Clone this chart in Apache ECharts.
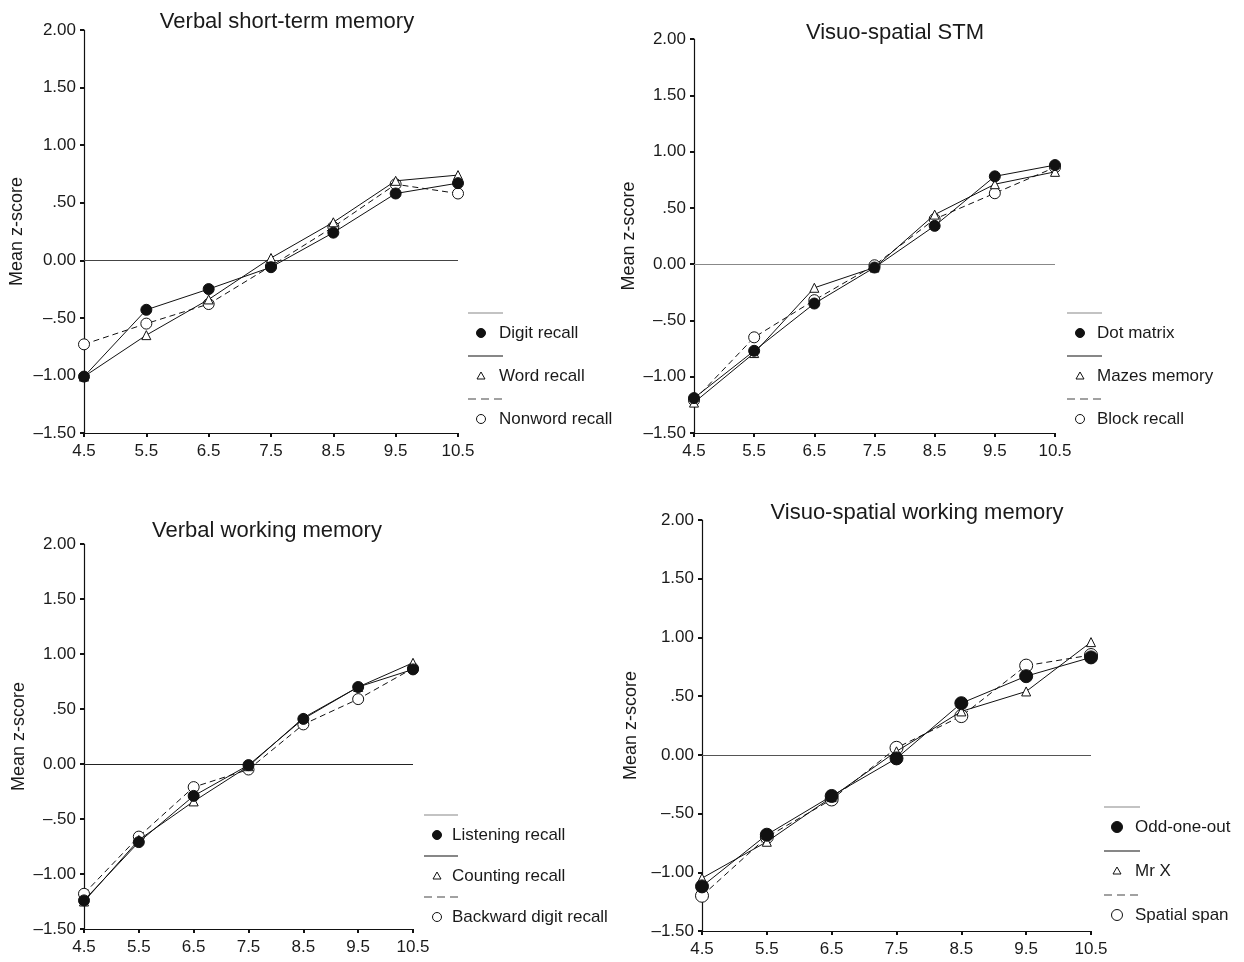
<!DOCTYPE html>
<html>
<head>
<meta charset="utf-8">
<script src="https://cdn.jsdelivr.net/npm/echarts@6/dist/echarts.min.js"></script>
<style>
  html, body { margin: 0; padding: 0; background: #fff; }
  #chart { width: 1244px; height: 962px; }
</style>
</head>
<body>
<div id="chart"></div>
<script>
// Age groups (x axis) and y tick labels
const ages = ['4.5', '5.5', '6.5', '7.5', '8.5', '9.5', '10.5'];
const yTicks = ['\u20131.50', '\u20131.00', '\u2013.50', '0.00', '.50', '1.00', '1.50', '2.00'];

// Verbal short-term memory
const digitRecall = [-1.01, -0.43, -0.25, -0.06, 0.24, 0.58, 0.67];
const wordRecall = [-1.01, -0.65, -0.34, 0.02, 0.33, 0.69, 0.74];
const nonwordRecall = [-0.73, -0.55, -0.38, -0.05, 0.29, 0.66, 0.58];

// Visuo-spatial STM
const dotMatrix = [-1.19, -0.77, -0.35, -0.03, 0.34, 0.78, 0.88];
const mazesMemory = [-1.23, -0.79, -0.21, -0.03, 0.44, 0.71, 0.82];
const blockRecall = [-1.21, -0.65, -0.32, -0.01, 0.40, 0.63, 0.86];

// Verbal working memory
const listeningRecall = [-1.24, -0.71, -0.29, -0.01, 0.41, 0.70, 0.86];
const countingRecall = [-1.25, -0.69, -0.34, -0.02, 0.42, 0.70, 0.92];
const backwardDigitRecall = [-1.18, -0.66, -0.21, -0.05, 0.36, 0.59, 0.87];

// Visuo-spatial working memory
const oddOneOut = [-1.12, -0.68, -0.35, -0.03, 0.44, 0.67, 0.83];
const mrX = [-1.05, -0.74, -0.36, 0.03, 0.37, 0.54, 0.96];
const spatialSpan = [-1.20, -0.70, -0.38, 0.06, 0.33, 0.76, 0.85];

const FONT = '"Liberation Sans", Arial, Helvetica, sans-serif';
const INK = '#1a1a1a';

// Layout of the four panels
const panels = [
    {
        title: 'Verbal short-term memory', titleX: 282, titleY: 6,
        grid: { left: 84, top: 30, width: 374, height: 403 },
        nameGap: 58, zeroColor: '#444',
        legend: { x: 468, y: 313, step: 43, len: 35, dx: 13, tx: 31 }, dot: 11,
        series: [['Digit recall', digitRecall], ['Word recall', wordRecall], ['Nonword recall', nonwordRecall]]
    },
    {
        title: 'Visuo-spatial STM', titleX: 890, titleY: 17,
        grid: { left: 694, top: 39, width: 361, height: 394 },
        nameGap: 56, zeroColor: '#888',
        legend: { x: 1067, y: 313, step: 43, len: 35, dx: 13, tx: 30 }, dot: 11,
        series: [['Dot matrix', dotMatrix], ['Mazes memory', mazesMemory], ['Block recall', blockRecall]]
    },
    {
        title: 'Verbal working memory', titleX: 262, titleY: 515,
        grid: { left: 84, top: 544, width: 329, height: 385 },
        nameGap: 56, zeroColor: '#222',
        legend: { x: 424, y: 815, step: 41, len: 34, dx: 13, tx: 28 }, dot: 11,
        series: [['Listening recall', listeningRecall], ['Counting recall', countingRecall], ['Backward digit recall', backwardDigitRecall]]
    },
    {
        title: 'Visuo-spatial working memory', titleX: 912, titleY: 497,
        grid: { left: 702, top: 520, width: 389, height: 411 },
        nameGap: 62, zeroColor: '#555',
        legend: { x: 1104, y: 807, step: 44, len: 36, dx: 13, tx: 31 }, dot: 13,
        series: [['Odd-one-out', oddOneOut], ['Mr X', mrX], ['Spatial span', spatialSpan]]
    }
];

// Marker / line style for the three series of each panel
const styles = [
    { symbol: 'circle', fill: '#111', dash: 'solid', legendLine: '#888' },
    { symbol: 'triangle', fill: '#fff', dash: 'solid', legendLine: '#111' },
    { symbol: 'circle', fill: '#fff', dash: [6, 4], legendLine: '#444' }
];

const chart = echarts.init(document.getElementById('chart'), null, { renderer: 'canvas' });

const option = {
    backgroundColor: '#fff',
    animation: false,
    textStyle: { fontFamily: FONT, color: INK },
    title: [],
    grid: [],
    xAxis: [],
    yAxis: [],
    series: [],
    graphic: []
};

panels.forEach((p, i) => {
    option.title.push({
        text: p.title,
        left: p.titleX,
        top: p.titleY,
        textAlign: 'center',
        textStyle: { fontFamily: FONT, fontSize: 22, fontWeight: 'normal', color: INK }
    });
    option.grid.push(Object.assign({ containLabel: false }, p.grid));
    option.xAxis.push({
        type: 'category',
        gridIndex: i,
        data: ages,
        boundaryGap: false,
        axisLine: { onZero: false, lineStyle: { color: '#111', width: 1.2 } },
        axisTick: { length: 4, alignWithLabel: true, lineStyle: { color: '#111', width: 2 } },
        axisLabel: { fontFamily: FONT, fontSize: 17, color: INK, margin: 10, interval: 0 },
        splitLine: { show: false }
    });
    option.yAxis.push({
        type: 'value',
        gridIndex: i,
        min: -1.5,
        max: 2,
        interval: 0.5,
        name: 'Mean z-score',
        nameLocation: 'middle',
        nameGap: p.nameGap,
        nameTextStyle: { fontFamily: FONT, fontSize: 18, color: INK },
        axisLine: { show: true, onZero: false, lineStyle: { color: '#111', width: 1.2 } },
        axisTick: { show: true, length: 4, lineStyle: { color: '#111', width: 2 } },
        axisLabel: {
            fontFamily: FONT, fontSize: 17, color: INK, margin: 8,
            formatter: v => yTicks[Math.round((v + 1.5) / 0.5)]
        },
        splitLine: { show: false }
    });

    // draw open-circle series first so filled markers sit on top
    [2, 1, 0].forEach(k => {
        const [name, values] = p.series[k];
        const st = styles[k];
        const s = {
            name: name,
            type: 'line',
            xAxisIndex: i,
            yAxisIndex: i,
            data: values,
            symbol: st.symbol,
            symbolSize: st.symbol === 'triangle' ? 9 : p.dot,
            showSymbol: true,
            lineStyle: { color: '#111', width: 1, type: st.dash },
            itemStyle: { color: st.fill, borderColor: '#111', borderWidth: 1 },
            z: 3 + (2 - k)
        };
        if (k === 2) {
            s.markLine = {
                silent: true,
                symbol: 'none',
                label: { show: false },
                lineStyle: { color: p.zeroColor, width: 1.2, type: 'solid' },
                data: [{ yAxis: 0 }],
                z: 1
            };
        }
        option.series.push(s);
    });

    // legend: line sample above a marker + label
    const L = p.legend;
    p.series.forEach(([name], k) => {
        const st = styles[k];
        const ly = L.y + k * L.step;
        const my = ly + 20;
        const mx = L.x + L.dx;
        option.graphic.push({
            type: 'line',
            shape: { x1: L.x, y1: ly, x2: L.x + L.len, y2: ly },
            style: { stroke: st.legendLine, lineWidth: 1.2, lineDash: st.dash === 'solid' ? null : [8, 5] }
        });
        if (st.symbol === 'triangle') {
            option.graphic.push({
                type: 'polygon',
                shape: { points: [[mx, my - 4], [mx + 4, my + 3], [mx - 4, my + 3]] },
                style: { fill: '#fff', stroke: '#111', lineWidth: 1 }
            });
        } else {
            option.graphic.push({
                type: 'circle',
                shape: { cx: mx, cy: my, r: (p.dot - 2) / 2 },
                style: { fill: st.fill, stroke: '#111', lineWidth: 1 }
            });
        }
        option.graphic.push({
            type: 'text',
            style: {
                text: name, x: L.x + L.tx, y: my,
                fill: INK, font: '17px ' + FONT, verticalAlign: 'middle'
            }
        });
    });
});

chart.setOption(option);
window.addEventListener('resize', () => chart.resize());
</script>
</body>
</html>
